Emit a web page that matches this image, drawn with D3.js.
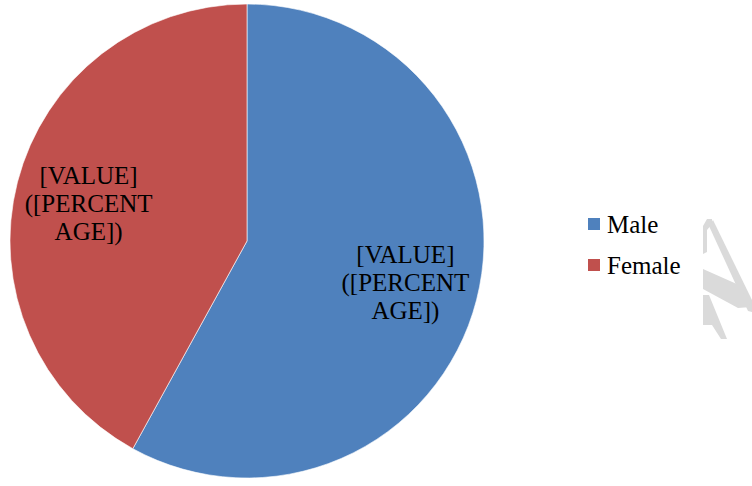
<!DOCTYPE html>
<html>
<head>
<meta charset="utf-8">
<script src="https://cdn.jsdelivr.net/npm/d3@7"></script>
<style>
	body { margin: 0; background: #fff; }
	svg { display: block; font-family: "Liberation Serif", "Times New Roman", serif; }
</style>
</head>
<body>
<div id="chart"></div>
<script>
// chart data
var categories = ["Male", "Female"];
var values = [58, 42];
var labelLines = ["[VALUE]", "([PERCENT", "AGE])"];
var colors = ["#4F81BD", "#C0504D"];

var width = 752,
	height = 486,
	radius = 237,
	cx = 247,
	cy = 241;

var svg = d3.select("#chart").append("svg")
	.attr("width", width)
	.attr("height", height);

/*
 * Faint watermark fragment cut by the right edge (decoration only).
 */
var mark = [
	[[703,226],[707,219],[712,219],[712,224],[707,230],[707,252],[703,254]],
	[[709,226],[713,220],[752,300],[752,312],[748,311]],
	[[703,269],[739,285],[751,307],[738,308],[703,289]],
	[[703,295],[709,295],[727,339],[721,339],[712,325],[703,325]]
];
svg.append("g").selectAll("path")
	.data(mark)
	.enter().append("path")
	.attr("d", function(d) { return d3.line()(d) + "Z"; })
	.style("fill", "#dadada");

var color = d3.scaleOrdinal()
	.domain(categories)
	.range(colors);

var pie = d3.pie()
	.sort(null)
	.value(function(d, i) { return values[i]; });

var arc = d3.arc()
	.outerRadius(radius)
	.innerRadius(0);

var labelArc = d3.arc()
	.outerRadius(radius * 0.69)
	.innerRadius(radius * 0.69);

var g = svg.append("g")
	.attr("transform", "translate(" + cx + "," + cy + ")");

var slices = g.selectAll(".arc")
	.data(pie(categories))
	.enter().append("g")
	.attr("class", "arc");

slices.append("path")
	.attr("d", arc)
	.style("fill", function(d) { return color(d.data); })
	.style("stroke", "#ffffff")
	.style("stroke-width", 0.6);

/*
 * Three-line placeholder labels, centred on the slice.
 */
var lineH = 28;
slices.append("text")
	.attr("transform", function(d) {
		var c = labelArc.centroid(d);
		return "translate(" + c[0] + "," + (c[1] + (d.index === 1 ? 3 : 0)) + ")";
	})
	.style("text-anchor", "middle")
	.style("font-size", "25px")
	.attr("fill", "#000")
	.selectAll("tspan")
	.data(labelLines)
	.enter().append("tspan")
	.attr("x", 0)
	.attr("y", function(d, i) { return (i - 1) * lineH + 9; })
	.text(function(d) { return d; });

/*
 * Legend.
 */
var legend = svg.append("g")
	.attr("transform", "translate(588,218)");

var item = legend.selectAll(".item")
	.data(categories)
	.enter().append("g")
	.attr("class", "item")
	.attr("transform", function(d, i) { return "translate(0," + i * 41 + ")"; });

item.append("rect")
	.attr("width", 12)
	.attr("height", 12)
	.style("fill", function(d) { return color(d); });

item.append("text")
	.attr("x", 19)
	.attr("y", 15)
	.style("font-size", "25px")
	.text(function(d) { return d; });
</script>
</body>
</html>
